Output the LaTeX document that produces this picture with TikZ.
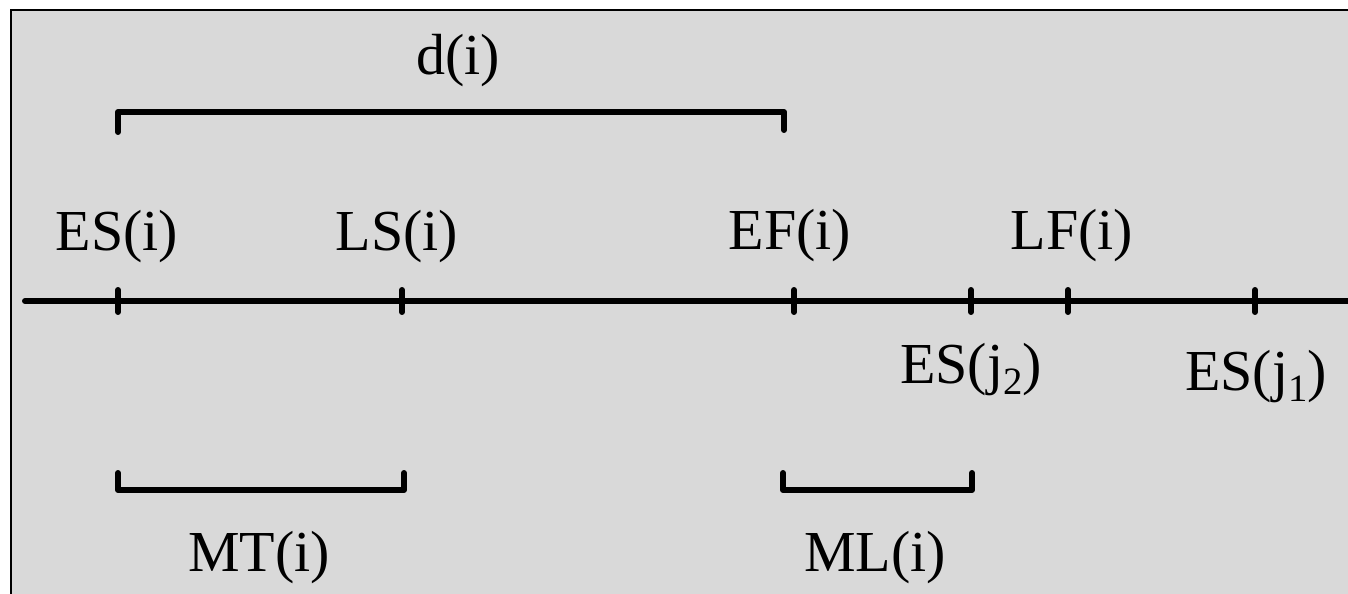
\documentclass[tikz,border=0pt]{standalone}
\usepackage{fontspec}
\setmainfont{Liberation Serif}
\usepackage{xcolor}
\usepackage{tikz}
\usetikzlibrary{calc}
\definecolor{panelgray}{HTML}{D9D9D9}
\newcommand{\lowsub}[1]{\raisebox{-0.2em}{\fontsize{22}{24}\selectfont #1}}

\begin{document}
\begin{tikzpicture}[x=0.2mm, y=-0.2mm,
  label/.style={font=\fontsize{33}{38}\selectfont, anchor=base, inner sep=0pt},
  timeline/.style={black, line width=3.4pt, line cap=round},
  bracket/.style={black, line width=3.4pt, line cap=round, line join=round}]
  \useasboundingbox (0,0) rectangle (1348,594);
  \fill[white] (0,0) rectangle (1348,594);
  \draw[black, line width=1.2pt, fill=panelgray] (11,10) rectangle (1360,610);
  % time axis and its ticks
  \coordinate (axisL) at (25,301);
  \coordinate (axisR) at (1348,301);
  \draw[timeline] (axisL) -- (axisR);
  \foreach \name/\xx in {esi/118, lsi/402, efi/794, esjb/971, lfi/1068, esja/1255} {
    \coordinate (\name) at (\xx,301);
    \draw[timeline] ($(\name)+(0,-11)$) -- ($(\name)+(0,11)$);
  }
  % labels above the axis
  \node[label] (lESi) at (117,250) {ES(i)};
  \node[label] (lLSi) at (397,250) {LS(i)};
  \node[label] (lEFi) at (790,249) {EF(i)};
  \node[label] (lLFi) at (1072,249) {LF(i)};
  % labels below the axis
  \node[label] (lESj2) at (971,383) {ES(j\lowsub{2})};
  \node[label] (lESj1) at (1256,390) {ES(j\lowsub{1})};
  % duration bracket
  \coordinate (dA) at (118,132);
  \coordinate (dB) at (784,130);
  \draw[bracket] (dA) -- (118,112) -- (784,112) -- (dB);
  \node[label] (ldi) at (458,75) {d(i)};
  % MT bracket
  \coordinate (mtA) at (118,473);
  \coordinate (mtB) at (404,473);
  \draw[bracket] (mtA) -- (118,490) -- (404,490) -- (mtB);
  \node[label] (lMTi) at (259,571) {MT(i)};
  % ML bracket
  \coordinate (mlA) at (783,473);
  \coordinate (mlB) at (972,473);
  \draw[bracket] (mlA) -- (783,490) -- (972,490) -- (mlB);
  \node[label] (lMLi) at (875,571) {ML(i)};
\end{tikzpicture}
\end{document}
